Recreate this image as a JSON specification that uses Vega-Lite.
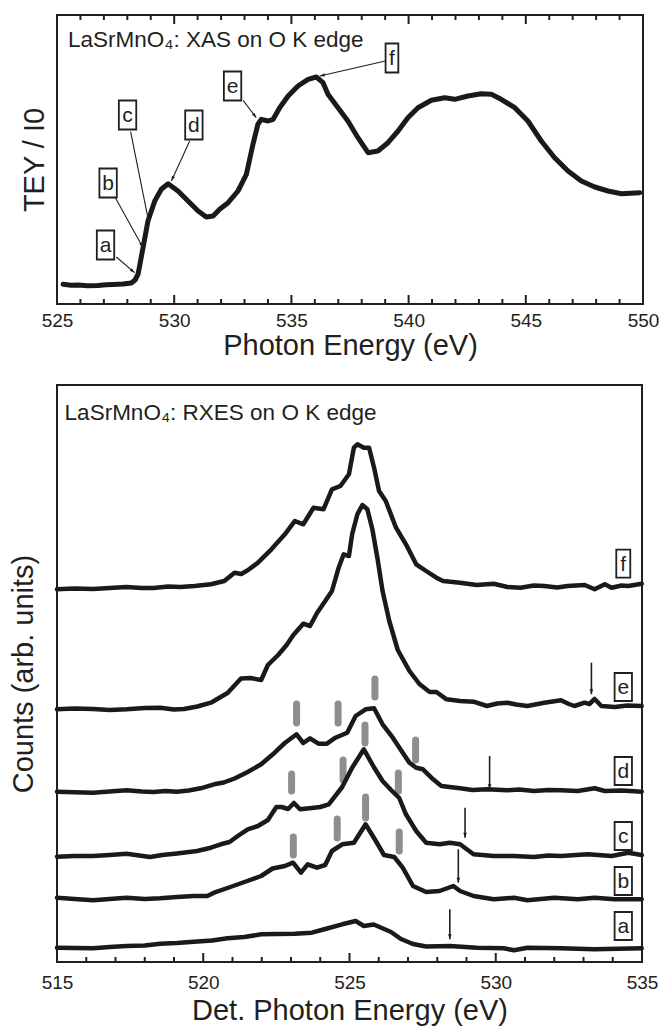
{
  "$schema": "https://vega.github.io/schema/vega-lite/v6.json",
  "padding": {"left": 8, "top": 13, "right": 0, "bottom": 0},
  "bounds": "flush",
  "spacing": 81,
  "config": {
    "font": "Liberation Sans",
    "view": {"stroke": "#231f20", "strokeWidth": 2},
    "axis": {
      "domain": false, "grid": false,
      "labelFont": "Liberation Sans", "titleFont": "Liberation Sans",
      "labelFontSize": 19, "titleFontSize": 29, "titleFontWeight": "normal", "labelFontWeight": "normal",
      "labelColor": "#231f20", "titleColor": "#231f20", "tickColor": "#231f20", "tickWidth": 1.8
    }
  },
  "datasets": {
    "tkTop": [
      {"E": 525, "I": 0, "I2": 9}, {"E": 530, "I": 0, "I2": 9}, {"E": 535, "I": 0, "I2": 9}, {"E": 540, "I": 0, "I2": 9}, {"E": 545, "I": 0, "I2": 9}, {"E": 550, "I": 0, "I2": 9},
      {"E": 525, "I": 289, "I2": 280}, {"E": 530, "I": 289, "I2": 280}, {"E": 535, "I": 289, "I2": 280}, {"E": 540, "I": 289, "I2": 280}, {"E": 545, "I": 289, "I2": 280}, {"E": 550, "I": 289, "I2": 280},
      {"E": 526, "I": 0, "I2": 5}, {"E": 527, "I": 0, "I2": 5}, {"E": 528, "I": 0, "I2": 5}, {"E": 529, "I": 0, "I2": 5},
      {"E": 531, "I": 0, "I2": 5}, {"E": 532, "I": 0, "I2": 5}, {"E": 533, "I": 0, "I2": 5}, {"E": 534, "I": 0, "I2": 5},
      {"E": 536, "I": 0, "I2": 5}, {"E": 537, "I": 0, "I2": 5}, {"E": 538, "I": 0, "I2": 5}, {"E": 539, "I": 0, "I2": 5},
      {"E": 541, "I": 0, "I2": 5}, {"E": 542, "I": 0, "I2": 5}, {"E": 543, "I": 0, "I2": 5}, {"E": 544, "I": 0, "I2": 5},
      {"E": 546, "I": 0, "I2": 5}, {"E": 547, "I": 0, "I2": 5}, {"E": 548, "I": 0, "I2": 5}, {"E": 549, "I": 0, "I2": 5},
      {"E": 526, "I": 289, "I2": 284}, {"E": 527, "I": 289, "I2": 284}, {"E": 528, "I": 289, "I2": 284}, {"E": 529, "I": 289, "I2": 284},
      {"E": 531, "I": 289, "I2": 284}, {"E": 532, "I": 289, "I2": 284}, {"E": 533, "I": 289, "I2": 284}, {"E": 534, "I": 289, "I2": 284},
      {"E": 536, "I": 289, "I2": 284}, {"E": 537, "I": 289, "I2": 284}, {"E": 538, "I": 289, "I2": 284}, {"E": 539, "I": 289, "I2": 284},
      {"E": 541, "I": 289, "I2": 284}, {"E": 542, "I": 289, "I2": 284}, {"E": 543, "I": 289, "I2": 284}, {"E": 544, "I": 289, "I2": 284},
      {"E": 546, "I": 289, "I2": 284}, {"E": 547, "I": 289, "I2": 284}, {"E": 548, "I": 289, "I2": 284}, {"E": 549, "I": 289, "I2": 284}
    ],
    "tkBot": [
      {"E": 515, "I": 0, "I2": 9}, {"E": 520, "I": 0, "I2": 9}, {"E": 525, "I": 0, "I2": 9}, {"E": 530, "I": 0, "I2": 9}, {"E": 535, "I": 0, "I2": 9},
      {"E": 516, "I": 0, "I2": 5}, {"E": 517, "I": 0, "I2": 5}, {"E": 518, "I": 0, "I2": 5}, {"E": 519, "I": 0, "I2": 5},
      {"E": 521, "I": 0, "I2": 5}, {"E": 522, "I": 0, "I2": 5}, {"E": 523, "I": 0, "I2": 5}, {"E": 524, "I": 0, "I2": 5},
      {"E": 526, "I": 0, "I2": 5}, {"E": 527, "I": 0, "I2": 5}, {"E": 528, "I": 0, "I2": 5}, {"E": 529, "I": 0, "I2": 5},
      {"E": 531, "I": 0, "I2": 5}, {"E": 532, "I": 0, "I2": 5}, {"E": 533, "I": 0, "I2": 5}, {"E": 534, "I": 0, "I2": 5}
    ],
    "xas": [
      {"E": 525.26, "I": 19.7}, {"E": 525.6, "I": 18.8}, {"E": 525.9, "I": 19}, {"E": 526.3, "I": 18.2}, {"E": 526.75, "I": 18.5},
      {"E": 527.1, "I": 19.2}, {"E": 527.39, "I": 19.5}, {"E": 527.82, "I": 20}, {"E": 528.17, "I": 21}, {"E": 528.33, "I": 24},
      {"E": 528.46, "I": 30}, {"E": 528.67, "I": 56.3}, {"E": 528.88, "I": 83}, {"E": 529.17, "I": 103}, {"E": 529.45, "I": 114.7},
      {"E": 529.74, "I": 120.3}, {"E": 530.16, "I": 113}, {"E": 530.59, "I": 103}, {"E": 531.02, "I": 93}, {"E": 531.37, "I": 87},
      {"E": 531.66, "I": 88}, {"E": 531.94, "I": 94.7}, {"E": 532.3, "I": 101.3}, {"E": 532.72, "I": 113}, {"E": 533.08, "I": 129.7},
      {"E": 533.36, "I": 159.7}, {"E": 533.57, "I": 179.7}, {"E": 533.72, "I": 184.7}, {"E": 534.0, "I": 183}, {"E": 534.22, "I": 184.7},
      {"E": 534.5, "I": 196.3}, {"E": 534.86, "I": 208}, {"E": 535.28, "I": 218}, {"E": 535.71, "I": 224.7}, {"E": 536.06, "I": 227},
      {"E": 536.35, "I": 221.3}, {"E": 536.56, "I": 209.7}, {"E": 536.99, "I": 196.3}, {"E": 537.41, "I": 183}, {"E": 537.84, "I": 166.3},
      {"E": 538.27, "I": 151.3}, {"E": 538.69, "I": 153}, {"E": 539.12, "I": 161.3}, {"E": 539.55, "I": 173}, {"E": 539.97, "I": 186.3},
      {"E": 540.4, "I": 196.3}, {"E": 540.97, "I": 203.7}, {"E": 541.54, "I": 206.3}, {"E": 541.97, "I": 204.7}, {"E": 542.53, "I": 208},
      {"E": 543.1, "I": 210.3}, {"E": 543.53, "I": 209.7}, {"E": 543.95, "I": 204.7}, {"E": 544.53, "I": 196.3}, {"E": 545.09, "I": 183},
      {"E": 545.66, "I": 163}, {"E": 546.23, "I": 146.3}, {"E": 546.8, "I": 133}, {"E": 547.37, "I": 123}, {"E": 547.94, "I": 117},
      {"E": 548.51, "I": 113}, {"E": 549.08, "I": 110.3}, {"E": 549.86, "I": 111.3}
    ],
    "inset1": [{"E": 525.47, "I": 264, "t": "LaSrMnO₄: XAS on O K edge"}],
    "boxTop": [
      {"E": 527.07, "I": 59, "L": "a"}, {"E": 527.18, "I": 121, "L": "b"}, {"E": 528.01, "I": 189, "L": "c"},
      {"E": 530.84, "I": 179, "L": "d"}, {"E": 532.49, "I": 218, "L": "e"}, {"E": 539.29, "I": 246, "L": "f"}
    ],
    "arrTop": [
      {"E": 528.31, "I": 31.3, "E2": 527.53, "I2": 47},
      {"E": 528.67, "I": 56.3, "E2": 527.49, "I2": 106.3},
      {"E": 528.92, "I": 81.3, "E2": 528.14, "I2": 172.3},
      {"E": 529.88, "I": 123, "E2": 530.66, "I2": 163},
      {"E": 533.5, "I": 186.3, "E2": 532.94, "I2": 203.7},
      {"E": 536.21, "I": 228, "E2": 539.01, "I2": 243}
    ],
    "rxes": [
      {"s": "f", "E": 515.0, "I": 372.7}, {"s": "f", "E": 515.6, "I": 373.5}, {"s": "f", "E": 516.23, "I": 373}, {"s": "f", "E": 516.8, "I": 374}, {"s": "f", "E": 517.38, "I": 375},
      {"s": "f", "E": 517.9, "I": 374}, {"s": "f", "E": 518.3, "I": 374}, {"s": "f", "E": 518.8, "I": 375.5}, {"s": "f", "E": 519.22, "I": 375}, {"s": "f", "E": 519.7, "I": 376},
      {"s": "f", "E": 520.26, "I": 377.7}, {"s": "f", "E": 520.72, "I": 381}, {"s": "f", "E": 521.07, "I": 389.3}, {"s": "f", "E": 521.3, "I": 388}, {"s": "f", "E": 521.52, "I": 391.7},
      {"s": "f", "E": 521.87, "I": 399.3}, {"s": "f", "E": 522.33, "I": 412.7}, {"s": "f", "E": 522.79, "I": 427.7}, {"s": "f", "E": 523.13, "I": 441}, {"s": "f", "E": 523.42, "I": 437.7},
      {"s": "f", "E": 523.77, "I": 454.3}, {"s": "f", "E": 524.11, "I": 452.7}, {"s": "f", "E": 524.4, "I": 472.7}, {"s": "f", "E": 524.69, "I": 476}, {"s": "f", "E": 524.98, "I": 487.7},
      {"s": "f", "E": 525.15, "I": 514.3}, {"s": "f", "E": 525.27, "I": 517.7}, {"s": "f", "E": 525.49, "I": 514.3}, {"s": "f", "E": 525.67, "I": 514.3}, {"s": "f", "E": 525.84, "I": 494.3},
      {"s": "f", "E": 526.01, "I": 471}, {"s": "f", "E": 526.24, "I": 461}, {"s": "f", "E": 526.59, "I": 434.3}, {"s": "f", "E": 526.93, "I": 417.7}, {"s": "f", "E": 527.28, "I": 397.7},
      {"s": "f", "E": 527.62, "I": 391}, {"s": "f", "E": 527.97, "I": 384.3}, {"s": "f", "E": 528.2, "I": 381}, {"s": "f", "E": 528.78, "I": 379.3}, {"s": "f", "E": 529.35, "I": 377},
      {"s": "f", "E": 529.93, "I": 378.3}, {"s": "f", "E": 530.4, "I": 375}, {"s": "f", "E": 530.85, "I": 374.3}, {"s": "f", "E": 531.3, "I": 376.5}, {"s": "f", "E": 531.66, "I": 376},
      {"s": "f", "E": 532.1, "I": 374.5}, {"s": "f", "E": 532.46, "I": 376}, {"s": "f", "E": 533.04, "I": 377}, {"s": "f", "E": 533.38, "I": 372.7}, {"s": "f", "E": 533.73, "I": 377.7},
      {"s": "f", "E": 533.96, "I": 374.3}, {"s": "f", "E": 534.3, "I": 376.5}, {"s": "f", "E": 534.53, "I": 376}, {"s": "f", "E": 534.99, "I": 378.3},

      {"s": "e", "E": 515.0, "I": 252.7}, {"s": "e", "E": 515.6, "I": 253.5}, {"s": "e", "E": 516.23, "I": 253}, {"s": "e", "E": 516.8, "I": 252}, {"s": "e", "E": 517.38, "I": 252.7},
      {"s": "e", "E": 518.0, "I": 254}, {"s": "e", "E": 518.53, "I": 254.3}, {"s": "e", "E": 519.0, "I": 252.5}, {"s": "e", "E": 519.34, "I": 253}, {"s": "e", "E": 519.8, "I": 255.5},
      {"s": "e", "E": 520.26, "I": 259.3}, {"s": "e", "E": 520.83, "I": 269}, {"s": "e", "E": 521.29, "I": 283.5}, {"s": "e", "E": 521.61, "I": 284}, {"s": "e", "E": 521.98, "I": 282},
      {"s": "e", "E": 522.21, "I": 297}, {"s": "e", "E": 522.56, "I": 307}, {"s": "e", "E": 522.85, "I": 317}, {"s": "e", "E": 523.08, "I": 327}, {"s": "e", "E": 523.42, "I": 338.3},
      {"s": "e", "E": 523.65, "I": 336}, {"s": "e", "E": 523.89, "I": 349}, {"s": "e", "E": 524.17, "I": 361}, {"s": "e", "E": 524.4, "I": 371}, {"s": "e", "E": 524.63, "I": 394.3},
      {"s": "e", "E": 524.8, "I": 407.7}, {"s": "e", "E": 524.98, "I": 406}, {"s": "e", "E": 525.09, "I": 427.7}, {"s": "e", "E": 525.27, "I": 447.7}, {"s": "e", "E": 525.44, "I": 457},
      {"s": "e", "E": 525.61, "I": 452.7}, {"s": "e", "E": 525.78, "I": 433}, {"s": "e", "E": 525.96, "I": 403}, {"s": "e", "E": 526.13, "I": 371}, {"s": "e", "E": 526.36, "I": 341},
      {"s": "e", "E": 526.65, "I": 312}, {"s": "e", "E": 527.05, "I": 291}, {"s": "e", "E": 527.39, "I": 278}, {"s": "e", "E": 527.74, "I": 270}, {"s": "e", "E": 527.97, "I": 270},
      {"s": "e", "E": 528.32, "I": 262.7}, {"s": "e", "E": 528.78, "I": 261}, {"s": "e", "E": 529.24, "I": 260.3}, {"s": "e", "E": 529.7, "I": 256}, {"s": "e", "E": 530.05, "I": 258.5},
      {"s": "e", "E": 530.39, "I": 259.3}, {"s": "e", "E": 530.7, "I": 257.5}, {"s": "e", "E": 531.08, "I": 256}, {"s": "e", "E": 531.66, "I": 259.3}, {"s": "e", "E": 532.23, "I": 261.7},
      {"s": "e", "E": 532.5, "I": 258}, {"s": "e", "E": 532.69, "I": 256}, {"s": "e", "E": 533.04, "I": 259.3}, {"s": "e", "E": 533.2, "I": 258}, {"s": "e", "E": 533.38, "I": 263},
      {"s": "e", "E": 533.61, "I": 256}, {"s": "e", "E": 534.07, "I": 255}, {"s": "e", "E": 534.5, "I": 256.5}, {"s": "e", "E": 534.99, "I": 256},

      {"s": "d", "E": 515.0, "I": 170.3}, {"s": "d", "E": 515.6, "I": 169.8}, {"s": "d", "E": 516.23, "I": 169.3}, {"s": "d", "E": 516.8, "I": 170.5}, {"s": "d", "E": 517.38, "I": 171.7},
      {"s": "d", "E": 517.9, "I": 170.5}, {"s": "d", "E": 518.3, "I": 170}, {"s": "d", "E": 518.7, "I": 171}, {"s": "d", "E": 519.1, "I": 170.3}, {"s": "d", "E": 519.5, "I": 171.5},
      {"s": "d", "E": 519.91, "I": 173.7}, {"s": "d", "E": 520.37, "I": 177.7}, {"s": "d", "E": 520.7, "I": 179.5}, {"s": "d", "E": 521.07, "I": 183.5}, {"s": "d", "E": 521.52, "I": 190},
      {"s": "d", "E": 521.98, "I": 197.7}, {"s": "d", "E": 522.44, "I": 209.3}, {"s": "d", "E": 522.79, "I": 219}, {"s": "d", "E": 522.96, "I": 222.7}, {"s": "d", "E": 523.19, "I": 227.7},
      {"s": "d", "E": 523.42, "I": 219}, {"s": "d", "E": 523.65, "I": 223.7}, {"s": "d", "E": 523.94, "I": 218.3}, {"s": "d", "E": 524.23, "I": 218.3}, {"s": "d", "E": 524.52, "I": 224.3},
      {"s": "d", "E": 524.92, "I": 229.3}, {"s": "d", "E": 525.21, "I": 246}, {"s": "d", "E": 525.55, "I": 252.7}, {"s": "d", "E": 525.84, "I": 253.7}, {"s": "d", "E": 526.13, "I": 237.7},
      {"s": "d", "E": 526.48, "I": 224.3}, {"s": "d", "E": 526.82, "I": 209.3}, {"s": "d", "E": 527.05, "I": 199.3}, {"s": "d", "E": 527.28, "I": 194.3}, {"s": "d", "E": 527.51, "I": 192.7},
      {"s": "d", "E": 527.86, "I": 182.7}, {"s": "d", "E": 528.14, "I": 176}, {"s": "d", "E": 528.78, "I": 173.7}, {"s": "d", "E": 529.2, "I": 172}, {"s": "d", "E": 529.7, "I": 172.7},
      {"s": "d", "E": 530.39, "I": 171.7}, {"s": "d", "E": 530.8, "I": 172.5}, {"s": "d", "E": 531.31, "I": 171}, {"s": "d", "E": 531.8, "I": 172}, {"s": "d", "E": 532.23, "I": 171.7},
      {"s": "d", "E": 532.8, "I": 171}, {"s": "d", "E": 533.38, "I": 173.7}, {"s": "d", "E": 533.73, "I": 171}, {"s": "d", "E": 534.3, "I": 171.5}, {"s": "d", "E": 534.99, "I": 170.3},

      {"s": "c", "E": 515.0, "I": 105.3}, {"s": "c", "E": 515.6, "I": 106}, {"s": "c", "E": 516.23, "I": 106}, {"s": "c", "E": 516.8, "I": 107}, {"s": "c", "E": 517.38, "I": 108.3},
      {"s": "c", "E": 518.18, "I": 105}, {"s": "c", "E": 518.6, "I": 107}, {"s": "c", "E": 519.1, "I": 108.5}, {"s": "c", "E": 519.79, "I": 111}, {"s": "c", "E": 520.26, "I": 114.3},
      {"s": "c", "E": 520.6, "I": 117.7}, {"s": "c", "E": 520.9, "I": 120}, {"s": "c", "E": 521.18, "I": 126}, {"s": "c", "E": 521.52, "I": 132.7}, {"s": "c", "E": 521.87, "I": 136},
      {"s": "c", "E": 522.21, "I": 142}, {"s": "c", "E": 522.5, "I": 155}, {"s": "c", "E": 522.68, "I": 155}, {"s": "c", "E": 522.9, "I": 153}, {"s": "c", "E": 523.1, "I": 159},
      {"s": "c", "E": 523.31, "I": 152.7}, {"s": "c", "E": 523.71, "I": 154}, {"s": "c", "E": 524.0, "I": 155}, {"s": "c", "E": 524.29, "I": 157.7}, {"s": "c", "E": 524.75, "I": 175},
      {"s": "c", "E": 525.09, "I": 194.3}, {"s": "c", "E": 525.49, "I": 212.7}, {"s": "c", "E": 525.83, "I": 195}, {"s": "c", "E": 526.13, "I": 181}, {"s": "c", "E": 526.42, "I": 172},
      {"s": "c", "E": 526.7, "I": 164}, {"s": "c", "E": 526.93, "I": 147.7}, {"s": "c", "E": 527.28, "I": 131}, {"s": "c", "E": 527.62, "I": 119.3}, {"s": "c", "E": 528.08, "I": 117.7},
      {"s": "c", "E": 528.43, "I": 119.3}, {"s": "c", "E": 528.78, "I": 117.7}, {"s": "c", "E": 529.24, "I": 107.7}, {"s": "c", "E": 529.93, "I": 106}, {"s": "c", "E": 530.62, "I": 106},
      {"s": "c", "E": 531.31, "I": 105}, {"s": "c", "E": 531.8, "I": 106.5}, {"s": "c", "E": 532.23, "I": 106}, {"s": "c", "E": 533.15, "I": 107.7}, {"s": "c", "E": 533.96, "I": 106},
      {"s": "c", "E": 534.53, "I": 109.3}, {"s": "c", "E": 534.99, "I": 107},

      {"s": "b", "E": 515.0, "I": 64.3}, {"s": "b", "E": 515.6, "I": 63}, {"s": "b", "E": 516.23, "I": 61.7}, {"s": "b", "E": 516.8, "I": 63}, {"s": "b", "E": 517.38, "I": 64.3},
      {"s": "b", "E": 518.0, "I": 63}, {"s": "b", "E": 518.53, "I": 63.7}, {"s": "b", "E": 519.1, "I": 65}, {"s": "b", "E": 519.68, "I": 66}, {"s": "b", "E": 520.14, "I": 66},
      {"s": "b", "E": 520.37, "I": 69.3}, {"s": "b", "E": 520.83, "I": 74}, {"s": "b", "E": 521.41, "I": 80}, {"s": "b", "E": 521.98, "I": 86}, {"s": "b", "E": 522.37, "I": 93.5},
      {"s": "b", "E": 522.79, "I": 96}, {"s": "b", "E": 523.07, "I": 99.3}, {"s": "b", "E": 523.34, "I": 89.3}, {"s": "b", "E": 523.57, "I": 97.7}, {"s": "b", "E": 523.89, "I": 94.3},
      {"s": "b", "E": 524.17, "I": 97}, {"s": "b", "E": 524.4, "I": 111}, {"s": "b", "E": 524.75, "I": 117.7}, {"s": "b", "E": 525.15, "I": 119.3}, {"s": "b", "E": 525.55, "I": 137.7},
      {"s": "b", "E": 525.9, "I": 121}, {"s": "b", "E": 526.18, "I": 107}, {"s": "b", "E": 526.53, "I": 105}, {"s": "b", "E": 526.82, "I": 94.3}, {"s": "b", "E": 527.17, "I": 76},
      {"s": "b", "E": 527.62, "I": 70}, {"s": "b", "E": 528.08, "I": 71}, {"s": "b", "E": 528.55, "I": 76}, {"s": "b", "E": 528.78, "I": 71}, {"s": "b", "E": 529.24, "I": 66},
      {"s": "b", "E": 529.93, "I": 62.7}, {"s": "b", "E": 530.62, "I": 64.3}, {"s": "b", "E": 531.08, "I": 61.7}, {"s": "b", "E": 532.0, "I": 64.3}, {"s": "b", "E": 532.81, "I": 62.7},
      {"s": "b", "E": 533.38, "I": 64.3}, {"s": "b", "E": 534.07, "I": 62.7}, {"s": "b", "E": 534.99, "I": 62.7},

      {"s": "a", "E": 515.0, "I": 14.3}, {"s": "a", "E": 515.6, "I": 14}, {"s": "a", "E": 516.23, "I": 13.7}, {"s": "a", "E": 516.8, "I": 15}, {"s": "a", "E": 517.38, "I": 16},
      {"s": "a", "E": 518.0, "I": 16.5}, {"s": "a", "E": 518.53, "I": 18.3}, {"s": "a", "E": 519.1, "I": 19}, {"s": "a", "E": 519.68, "I": 20.3}, {"s": "a", "E": 520.3, "I": 21.5},
      {"s": "a", "E": 520.83, "I": 23.7}, {"s": "a", "E": 521.4, "I": 25}, {"s": "a", "E": 521.98, "I": 27.7}, {"s": "a", "E": 522.5, "I": 28}, {"s": "a", "E": 523.13, "I": 28.3},
      {"s": "a", "E": 523.71, "I": 29.3}, {"s": "a", "E": 524.17, "I": 33}, {"s": "a", "E": 524.75, "I": 37.7}, {"s": "a", "E": 525.21, "I": 41}, {"s": "a", "E": 525.49, "I": 36},
      {"s": "a", "E": 525.83, "I": 37.5}, {"s": "a", "E": 526.42, "I": 30}, {"s": "a", "E": 526.76, "I": 23}, {"s": "a", "E": 527.17, "I": 18}, {"s": "a", "E": 527.62, "I": 15.5},
      {"s": "a", "E": 528.43, "I": 16}, {"s": "a", "E": 529.35, "I": 14.3}, {"s": "a", "E": 530.27, "I": 13.7}, {"s": "a", "E": 530.62, "I": 11.7}, {"s": "a", "E": 531.08, "I": 14.3},
      {"s": "a", "E": 532.23, "I": 13.7}, {"s": "a", "E": 533.38, "I": 12.7}, {"s": "a", "E": 534.99, "I": 13.7}
    ],
    "inset2": [{"E": 515.26, "I": 549.3, "t": "LaSrMnO₄: RXES on O K edge"}],
    "boxBot": [
      {"E": 534.36, "I": 398.3, "L": "f"}, {"E": 534.36, "I": 275, "L": "e"}, {"E": 534.36, "I": 191, "L": "d"},
      {"E": 534.36, "I": 126, "L": "c"}, {"E": 534.36, "I": 81, "L": "b"}, {"E": 534.36, "I": 36, "L": "a"}
    ],
    "arrBot": [
      {"E": 533.27, "I": 267.7, "E2": 533.27, "I2": 299.3},
      {"E": 529.79, "I": 172.7, "E2": 529.79, "I2": 206},
      {"E": 528.95, "I": 124.3, "E2": 528.95, "I2": 154.3},
      {"E": 528.72, "I": 79.3, "E2": 528.72, "I2": 112.7},
      {"E": 528.43, "I": 22.7, "E2": 528.43, "I2": 52.7}
    ],
    "bars": [
      {"E": 523.19, "I": 258, "I2": 239}, {"E": 524.61, "I": 258, "I2": 239}, {"E": 525.87, "I": 283, "I2": 265}, {"E": 527.26, "I": 222, "I2": 202},
      {"E": 523.02, "I": 188, "I2": 171}, {"E": 524.78, "I": 202, "I2": 182}, {"E": 525.53, "I": 237, "I2": 219}, {"E": 526.67, "I": 189, "I2": 171},
      {"E": 523.08, "I": 125, "I2": 107}, {"E": 524.58, "I": 143, "I2": 124}, {"E": 525.55, "I": 165, "I2": 144}, {"E": 526.7, "I": 130, "I2": 111}
    ]
  },
  "vconcat": [
    {
      "width": 586,
      "height": 289,
      "encoding": {
        "x": {
          "field": "E", "type": "quantitative",
          "scale": {"domain": [525, 550], "nice": false, "zero": false},
          "axis": {
            "orient": "bottom",
            "values": [525, 530, 535, 540, 545, 550],
            "tickSize": 0,
            "labelPadding": 7, "labelFlush": false,
            "title": "Photon Energy (eV)", "titlePadding": 1
          }
        },
        "y": {
          "field": "I", "type": "quantitative",
          "scale": {"domain": [0, 289], "nice": false, "zero": false},
          "axis": {"title": "TEY / I0", "labels": false, "ticks": false, "titlePadding": 8}
        }
      },
      "layer": [
        {"data": {"name": "xas"}, "mark": {"type": "line", "color": "#1a1a1a", "strokeWidth": 5, "strokeJoin": "round", "strokeCap": "round"}},
        {
          "data": {"name": "tkTop"},
          "mark": {"type": "rule", "color": "#231f20", "strokeWidth": 2},
          "encoding": {"y2": {"field": "I2"}}
        },
        {
          "data": {"name": "inset1"},
          "mark": {"type": "text", "align": "left", "baseline": "middle", "fontSize": 22.5, "font": "Liberation Sans", "color": "#231f20"},
          "encoding": {"text": {"field": "t"}}
        },
        {
          "data": {"name": "arrTop"},
          "mark": {"type": "rule", "color": "#231f20", "strokeWidth": 1.1},
          "encoding": {"x2": {"field": "E2"}, "y2": {"field": "I2"}}
        },
        {
          "data": {"name": "arrTop"},
          "mark": {"type": "point", "filled": true, "opacity": 1, "color": "#231f20", "size": 100, "shape": "M0,0L0.32,1L-0.32,1Z",
                   "angle": {"expr": "atan2(-(datum.I - datum.I2), (datum.E - datum.E2) * 23.44) * 180 / PI + 90"}}
        },
        {
          "data": {"name": "boxTop"},
          "mark": {"type": "point", "filled": true, "fill": "white", "stroke": "#231f20", "strokeWidth": 1.8, "opacity": 1, "size": 841,
                   "shape": {"expr": "datum.L === 'f' ? 'M-0.44,-1H0.44V1H-0.44Z' : 'M-0.6,-1H0.6V1H-0.6Z'"}}
        },
        {
          "data": {"name": "boxTop"},
          "mark": {"type": "text", "align": "center", "baseline": "middle", "fontSize": 21, "font": "Liberation Sans", "color": "#231f20", "dy": 1},
          "encoding": {"text": {"field": "L"}}
        }
      ]
    },
    {
      "width": 585,
      "height": 577,
      "encoding": {
        "x": {
          "field": "E", "type": "quantitative",
          "scale": {"domain": [515, 535], "nice": false, "zero": false},
          "axis": {
            "orient": "bottom",
            "values": [515, 520, 525, 530, 535],
            "tickSize": 0,
            "labelPadding": 11, "labelFlush": false,
            "title": "Det. Photon Energy (eV)", "titlePadding": 4
          }
        },
        "y": {
          "field": "I", "type": "quantitative",
          "scale": {"domain": [0, 577], "nice": false, "zero": false},
          "axis": {"title": "Counts (arb. units)", "labels": false, "ticks": false, "titlePadding": 19}
        }
      },
      "layer": [
        {
          "data": {"name": "bars"},
          "mark": {"type": "rule", "color": "#8e8e8e", "strokeWidth": 7, "strokeCap": "round"},
          "encoding": {"y2": {"field": "I2"}}
        },
        {
          "data": {"name": "rxes"},
          "mark": {"type": "line", "color": "#1a1a1a", "strokeWidth": 4.5, "strokeJoin": "round", "strokeCap": "round"},
          "encoding": {"detail": {"field": "s"}}
        },
        {
          "data": {"name": "tkBot"},
          "mark": {"type": "rule", "color": "#231f20", "strokeWidth": 2},
          "encoding": {"y2": {"field": "I2"}}
        },
        {
          "data": {"name": "inset2"},
          "mark": {"type": "text", "align": "left", "baseline": "middle", "fontSize": 22.5, "font": "Liberation Sans", "color": "#231f20"},
          "encoding": {"text": {"field": "t"}}
        },
        {
          "data": {"name": "arrBot"},
          "mark": {"type": "rule", "color": "#231f20", "strokeWidth": 1.6},
          "encoding": {"x2": {"field": "E2"}, "y2": {"field": "I2"}}
        },
        {
          "data": {"name": "arrBot"},
          "mark": {"type": "point", "filled": true, "opacity": 1, "color": "#231f20", "size": 100, "shape": "M0,0L0.36,1L-0.36,1Z",
                   "angle": {"expr": "atan2(-(datum.I - datum.I2), (datum.E - datum.E2) * 29) * 180 / PI + 90"}}
        },
        {
          "data": {"name": "boxBot"},
          "mark": {"type": "point", "filled": true, "fill": "white", "stroke": "#231f20", "strokeWidth": 1.8, "opacity": 1, "size": 784,
                   "shape": {"expr": "datum.L === 'f' ? 'M-0.5,-1H0.5V1H-0.5Z' : 'M-0.62,-1H0.62V1H-0.62Z'"}}
        },
        {
          "data": {"name": "boxBot"},
          "mark": {"type": "text", "align": "center", "baseline": "middle", "fontSize": 21, "font": "Liberation Sans", "color": "#231f20", "dy": 1},
          "encoding": {"text": {"field": "L"}}
        }
      ]
    }
  ]
}
